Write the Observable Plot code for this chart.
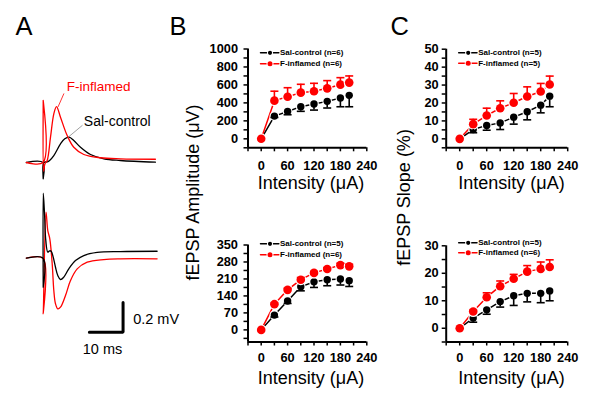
<!DOCTYPE html>
<html><head><meta charset="utf-8">
<script src="https://cdn.jsdelivr.net/npm/d3@7"></script>
<script src="https://cdn.jsdelivr.net/npm/@observablehq/plot@0.6"></script>
<style>
body{margin:0;background:#fff;}
#fig{position:relative;width:600px;height:415px;overflow:hidden;}
#fig svg{position:absolute;left:0;top:0;background:transparent;font:12px Arial,"Liberation Sans",sans-serif;overflow:visible;max-width:none;}
#fig g[aria-label^="x-axis"] text,#fig g[aria-label^="y-axis"] text{font-weight:bold;font-size:12.8px;}
#fig g[aria-label^="x-axis"] path,#fig g[aria-label^="y-axis"] path{stroke-width:1.5px;}
</style></head><body><div id="fig"></div>
<script>
// ---------- data ----------
const intensity = [0, 30, 60, 90, 120, 150, 180, 200];
const seriesNames = ["Sal-control", "F-inflamed"];
const seriesColors = ["#000000", "#ff0000"];

// B top: fEPSP amplitude (μV)
const ampTopCtrl    = [0, 253, 305, 358, 387, 417, 454, 484];
const ampTopCtrlSem = [0, 15, 37, 52, 67, 74, 97, 127];
const ampTopInfl    = [0, 425, 469, 514, 529, 562, 603, 626];
const ampTopInflSem = [0, 105, 100, 93, 89, 86, 78, 74];
const ampTopN = ["(n=6)", "(n=6)"];
// B bottom
const ampBotCtrl    = [0, 61, 119, 178, 198, 207, 210, 203];
const ampBotCtrlSem = [0, 8, 10, 17, 23, 25, 25, 24];
const ampBotInfl    = [0, 106, 165, 207, 235, 251, 267, 262];
const ampBotInflSem = [0, 5, 7, 9, 6, 6, 8, 8];
const ampBotN = ["(n=5)", "(n=6)"];
// C top: fEPSP slope (%)
const slopeTopCtrl    = [0, 5.2, 7.5, 8.9, 12.1, 15.1, 18.8, 23.8];
const slopeTopCtrlSem = [0, 1.8, 2.7, 3.7, 3.9, 4.5, 4.3, 5.9];
const slopeTopInfl    = [0, 8.2, 13.0, 17.1, 20.1, 23.6, 26.4, 30.3];
const slopeTopInflSem = [0, 2.7, 4.1, 4.1, 5.2, 5.4, 4.5, 4.7];
const slopeTopN = ["(n=5)", "(n=5)"];
// C bottom
const slopeBotCtrl    = [0, 3.7, 6.7, 9.7, 11.8, 12.7, 12.7, 13.6];
const slopeBotCtrlSem = [0, 1.5, 1.6, 2.0, 3.5, 3.1, 3.4, 3.6];
const slopeBotInfl    = [0, 6.1, 11.3, 15.3, 18.0, 20.6, 21.6, 22.3];
const slopeBotInflSem = [0, 0.5, 1.6, 1.9, 1.6, 2.2, 2.5, 2.6];
const slopeBotN = ["(n=5)", "(n=6)"];

// ticks
const xTicks = [-30, 0, 30, 60, 90, 120, 150, 180, 210, 240];
const xTickLabels = [0, 60, 120, 180, 240];
const ampTopTicks = [-100, 0, 100, 200, 300, 400, 500, 600, 700, 800, 900, 1000];
const ampTopLabels = [0, 200, 400, 600, 800, 1000];
const ampBotTicks = [-35, 0, 35, 70, 105, 140, 175, 210, 245, 280, 315, 350];
const ampBotLabels = [0, 70, 140, 210, 280, 350];
const slopeTopTicks = [-5, 0, 5, 10, 15, 20, 25, 30, 35, 40, 45, 50];
const slopeTopLabels = [0, 10, 20, 30, 40, 50];
const slopeBotTicks = [-5, 0, 5, 10, 15, 20, 25, 30];
const slopeBotLabels = [0, 10, 20, 30];

// titles
const xTitle = "Intensity (μA)";
const ampTitle = "fEPSP Amplitude (μV)";
const slopeTitle = "fEPSP Slope (%)";
const panelLetters = ["A", "B", "C"];

// Panel A example traces: [time (ms), voltage (mV)]
const topCtrlTrace = [[-5,0],[-0.05,0],[0,-0.11],[0.15,0],[1.2,0.004],[1.9,0.014],[3.15,0.047],[5.13,0.126],[6.4,0.16],[7.66,0.172],[9.08,0.149],[11.07,0.103],[14.04,0.054],[18.0,0.025],[22.9,0.0135],[33.3,0.002]];
const topInflTrace = [[-5,0],[-0.05,0],[0,0.42],[0.12,-0.06],[0.5,-0.01],[1.19,0.014],[2.17,0.171],[3.15,0.329],[3.95,0.378],[5.13,0.306],[7.12,0.182],[9.08,0.103],[12.05,0.054],[17.0,0.032],[22.9,0.025],[33.3,0.022]];
const botCtrlTrace = [[-5,0],[-0.05,0],[0,-0.196],[0.02,0.439],[0.39,0.302],[0.77,0.12],[1.36,0.041],[1.9,0.05],[2.37,0.047],[2.97,0.007],[3.65,-0.061],[4.33,-0.117],[5.13,-0.144],[6.11,-0.128],[7.6,-0.072],[9.58,-0.016],[12.05,0.018],[16.0,0.039],[22.9,0.045],[33.8,0.047]];
const botInflTrace = [[-5,0],[-0.05,0],[0,-0.376],[0.83,0.311],[1.36,0.187],[1.96,0.131],[2.67,-0.038],[3.15,-0.218],[3.65,-0.308],[4.33,-0.342],[5.13,-0.331],[6.62,-0.252],[8.1,-0.151],[10.09,-0.072],[13.06,-0.027],[17.98,-0.009],[22.9,-0.004],[33.8,-0.004]];
// trace annotations (leader lines and labels, in ms / mV)
const traceLeaders = [
  {pts: [[4.45,0.378],[6.11,0.464]], color: "#ff0000"},
  {pts: [[7.42,0.171],[11.57,0.25]], color: "#888888"}
];
const traceLabels = [
  {t: 7.0, v: 0.485, text: "F-inflamed", color: "#ff0000", size: 13.5},
  {t: 12.05, v: 0.247, text: "Sal-control", color: "#000000", size: 14}
];
// scale bar: 10 ms x 0.2 mV
const scaleBar = [[13.7,-0.5],[23.7,-0.5],[23.7,-0.3]];
const scaleLabels = [
  {t: 26.7, v: -0.443, text: "0.2 mV", anchor: "start"},
  {t: 17.6, v: -0.646, text: "10 ms", anchor: "middle"}
];

// ---------- drawing ----------
const fig = document.getElementById("fig");
const W = 600, H = 415;
const capSymbol = {draw(ctx, size) { const w = Math.sqrt(size / Math.PI); ctx.moveTo(-w, 0); ctx.lineTo(w, 0); }};

function panel(cfg) {
  const xDomain = [-30, 240];
  const {box, yDomain} = cfg;
  const rows = (vals, sems) => intensity.map((x, i) => ({x, y: vals[i], sem: sems[i]}));
  const C = rows(cfg.ctrl, cfg.ctrlSem), F = rows(cfg.infl, cfg.inflSem);
  const fw = box.right - box.left, fh = box.bottom - box.top;
  const px = d => xDomain[0] + d / fw * (xDomain[1] - xDomain[0]);
  const py = d => yDomain[1] - d / fh * (yDomain[1] - yDomain[0]);
  const legendMarks = [];
  [0, 1].forEach(i => {
    const yy = py(cfg.legendRows[i]);
    const col = seriesColors[i];
    legendMarks.push(
      Plot.line([[px(12.5), yy], [px(30.8), yy]], {stroke: col, strokeWidth: 1.5}),
      Plot.dot([[px(22), yy]], {r: i ? 2.5 : 2.1, fill: col, stroke: "white", strokeWidth: 2, paintOrder: "stroke"}),
      Plot.text([seriesNames[i] + " " + cfg.n[i]], {x: px(32), y: yy, text: d => d, textAnchor: "start", fontSize: 8, fontWeight: "bold", fill: "black"})
    );
  });
  const sem = a => a.filter(d => d.sem > 0);
  return Plot.plot({
    width: W, height: H,
    marginLeft: box.left, marginRight: W - box.right, marginTop: box.top, marginBottom: H - box.bottom,
    x: {domain: xDomain, ticks: xTicks, tickFormat: d => xTickLabels.includes(d) ? String(d) : "", tickSize: 4, tickPadding: cfg.padX, label: null},
    y: {domain: yDomain, ticks: cfg.yTicks, tickFormat: d => cfg.yLabels.includes(d) ? String(d) : "", tickSize: 4, tickPadding: cfg.padY, label: null},
    marks: [
      Plot.ruleY([yDomain[0]], {strokeWidth: 2}),
      Plot.ruleX([xDomain[0]], {strokeWidth: 2}),
      Plot.line(C, {x: "x", y: "y", stroke: seriesColors[0], strokeWidth: 1.5}),
      Plot.line(F, {x: "x", y: "y", stroke: seriesColors[1], strokeWidth: 1.5}),
      Plot.dot(C, {x: "x", y: "y", r: 3.7, fill: seriesColors[0], stroke: "white", strokeWidth: 2.4, paintOrder: "stroke"}),
      Plot.dot(F, {x: "x", y: "y", r: 4.3, fill: seriesColors[1], stroke: "white", strokeWidth: 2.4, paintOrder: "stroke"}),
      Plot.ruleX(sem(C), {x: "x", y1: "y", y2: d => d.y - d.sem, stroke: seriesColors[0], strokeWidth: 1.6}),
      Plot.dot(sem(C), {x: "x", y: d => d.y - d.sem, symbol: capSymbol, r: 4, stroke: seriesColors[0], strokeWidth: 1.6}),
      Plot.ruleX(sem(F), {x: "x", y1: "y", y2: d => d.y + d.sem, stroke: seriesColors[1], strokeWidth: 1.6}),
      Plot.dot(sem(F), {x: "x", y: d => d.y + d.sem, symbol: capSymbol, r: 4, stroke: seriesColors[1], strokeWidth: 1.6}),
      ...legendMarks,
      Plot.text([xTitle], {text: d => d, frameAnchor: "bottom", lineAnchor: "bottom", dy: cfg.titleDy, dx: cfg.titleDx, fontSize: 18, fill: "black"})
    ]
  });
}

const bTop = {left: 247.5, right: 366.3, top: 48.5, bottom: 147.3};
const bBot = {left: 247.5, right: 366.3, top: 244.5, bottom: 341.5};
const cTop = {left: 445.7, right: 567.2, top: 48.7, bottom: 147.3};
const cBot = {left: 445.7, right: 567.2, top: 245.3, bottom: 341.5};

fig.append(panel({ctrl: ampTopCtrl, ctrlSem: ampTopCtrlSem, infl: ampTopInfl, inflSem: ampTopInflSem, n: ampTopN,
  yDomain: [-100, 1000], yTicks: ampTopTicks, yLabels: ampTopLabels, box: bTop, legendRows: [3.8, 14.8], padX: 9.5, padY: 6, titleDx: 3.6, titleDy: 41}));
fig.append(panel({ctrl: ampBotCtrl, ctrlSem: ampBotCtrlSem, infl: ampBotInfl, inflSem: ampBotInflSem, n: ampBotN,
  yDomain: [-50, 350], yTicks: ampBotTicks, yLabels: ampBotLabels, box: bBot, legendRows: [-1.2, 9.8], padX: 7, padY: 6, titleDx: 3.6, titleDy: 41.5}));
fig.append(panel({ctrl: slopeTopCtrl, ctrlSem: slopeTopCtrlSem, infl: slopeTopInfl, inflSem: slopeTopInflSem, n: slopeTopN,
  yDomain: [-5, 50], yTicks: slopeTopTicks, yLabels: slopeTopLabels, box: cTop, legendRows: [3.6, 14.0], padX: 9.5, padY: 3.5, titleDx: 4.5, titleDy: 41}));
fig.append(panel({ctrl: slopeBotCtrl, ctrlSem: slopeBotCtrlSem, infl: slopeBotInfl, inflSem: slopeBotInflSem, n: slopeBotN,
  yDomain: [-5, 30], yTicks: slopeBotTicks, yLabels: slopeBotLabels, box: cBot, legendRows: [-3.0, 7.0], padX: 7, padY: 3.5, titleDx: 4.5, titleDy: 41.5}));

// Panel A traces
function tracePlot(yDomain, top, bottom, marks) {
  return Plot.plot({
    width: W, height: H,
    marginLeft: 25.85, marginRight: W - 160.65, marginTop: top, marginBottom: H - bottom,
    x: {domain: [-5, 35], axis: null},
    y: {domain: yDomain, axis: null},
    marks
  });
}
const trace = (data, color) => Plot.line(data, {x: d => d[0], y: d => d[1], stroke: color, strokeWidth: 1.3, curve: "catmull-rom"});

fig.append(tracePlot([-0.2, 0.5], 88, 191.6, [
  trace(topCtrlTrace, seriesColors[0]),
  trace(topInflTrace, seriesColors[1]),
  ...traceLeaders.map(l => Plot.line(l.pts, {x: d => d[0], y: d => d[1], stroke: l.color, strokeWidth: 0.8})),
  ...traceLabels.map(l => Plot.text([l], {x: "t", y: "v", text: "text", fill: l.color, fontSize: l.size, textAnchor: "start", lineAnchor: "bottom"}))
]));
fig.append(tracePlot([-0.6, 0.5], 183.7, 346.5, [
  trace(botInflTrace, seriesColors[1]),
  trace(botCtrlTrace, seriesColors[0]),
  Plot.line(scaleBar, {x: d => d[0], y: d => d[1], stroke: "black", strokeWidth: 3, strokeLinejoin: "miter"}),
  ...scaleLabels.map(l => Plot.text([l], {x: "t", y: "v", text: "text", fill: "black", fontSize: 14.5, textAnchor: l.anchor, lineAnchor: "bottom"}))
]));

// overlay: panel letters and rotated y titles
const ov = d3.select(fig).append("svg").attr("width", W).attr("height", H);
[[15.5, panelLetters[0]], [169.5, panelLetters[1]], [390.5, panelLetters[2]]].forEach(([x, t]) =>
  ov.append("text").attr("x", x).attr("y", 35).attr("font-size", 25.5).text(t));
ov.append("text").attr("transform", "translate(199,192.5) rotate(-90)").attr("text-anchor", "middle").attr("font-size", 18).text(ampTitle);
ov.append("text").attr("transform", "translate(409.5,197.5) rotate(-90)").attr("text-anchor", "middle").attr("font-size", 18).text(slopeTitle);
</script></body></html>
